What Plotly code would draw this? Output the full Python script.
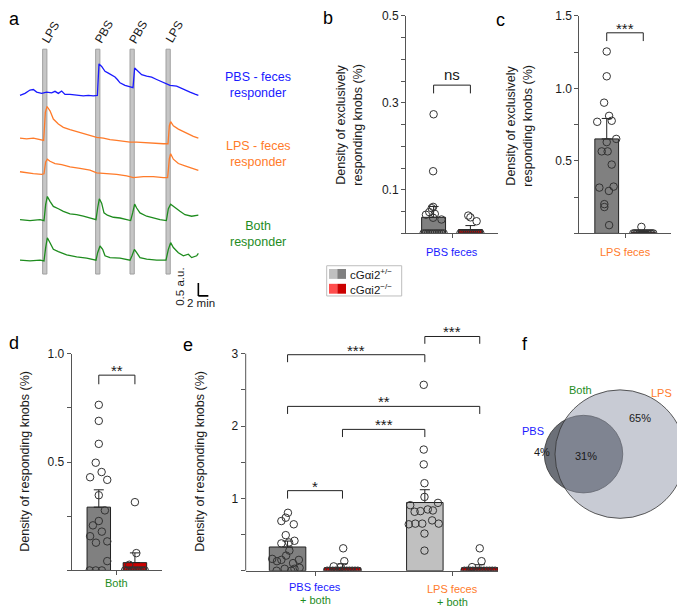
import math
import plotly.graph_objects as go

# page is offset by the default 8px body margin
OFF = 8
W, H = 685 - OFF, 607 - OFF
FONT = "Liberation Sans, Arial, Helvetica, sans-serif"
BLUE = "#1a1aff"
ORANGE = "#ff7b2a"
GREEN = "#1e8c1e"
AXC = "#555555"
TXT = "#1a1a1a"
DARKGRAY = "#808080"
LIGHTGRAY = "#c0c0c0"
RED = "#cc0000"
LIGHTRED = "#ff4d4d"


def PX(p):
    return (p - OFF) / W


def PY(p):
    return 1 - (p - OFF) / H


# ---------------- panel a : example traces ----------------
stim_labels = ["LPS", "PBS", "PBS", "LPS"]
stim_onsets = [4.53, 15.13, 22.0, 29.2]          # min
stim_duration = 0.85                              # min
trace_colors = [BLUE, ORANGE, ORANGE, GREEN, GREEN]
trace_offsets = [8.14, 6.41, 5.09, 3.27, 1.69]   # a.u.

blue_t = [0, 1.0, 2.0, 2.67, 3.33, 4.33, 5.33, 6.33, 7.0, 7.67, 8.33, 9.0, 10.0, 11.33,
          12.67, 13.67, 14.67, 15.47, 15.8, 16.33, 17.0, 17.67, 18.33, 19.0, 19.47, 20.0,
          21.0, 22.0, 22.6, 22.93, 23.47, 24.33, 25.33, 26.33, 27.33, 28.67, 30.0, 31.33,
          32.67, 34.0, 35.0, 35.67]
blue_v = [-0.04, 0.04, 0.17, 0.19, 0.09, 0.04, 0.09, 0.06, 0.12, 0.04, 0.13, 0.0, 0.0, -0.04,
          -0.06, -0.04, -0.06, -0.04, 1.19, 1.09, 0.90, 0.83, 0.77, 0.68, 0.58, 0.45,
          0.35, 0.29, 0.26, 1.03, 0.94, 0.77, 0.71, 0.67, 0.58, 0.45, 0.35, 0.32,
          0.22, 0.09, 0.01, -0.04]

orange1_t = [0, 1.33, 2.67, 4.0, 4.73, 5.07, 5.4, 6.0, 6.67, 7.67, 8.67, 10.0, 11.33, 12.67,
             14.0, 15.33, 16.67, 18.0, 19.33, 20.67, 22.0, 23.33, 24.67, 26.0, 27.33, 28.67,
             29.6, 29.87, 30.13, 30.67, 31.67, 32.67, 33.67, 34.67, 35.67]
orange1_v = [0.03, 0, 0.03, -0.03, -0.06, 1.03, 1.26, 1.09, 0.77, 0.58, 0.45, 0.36, 0.28, 0.22,
             0.15, 0.06, 0.03, -0.03, -0.06, -0.10, -0.13, -0.13, -0.15, -0.17, -0.18, -0.19,
             -0.19, 0.51, 0.67, 0.51, 0.38, 0.28, 0.19, 0.10, 0.03]

orange2_t = [0, 1.33, 2.67, 4.33, 4.8, 5.13, 5.47, 6.0, 7.0, 8.33, 10.0, 12.0, 14.0, 15.33,
             17.33, 19.33, 21.33, 22.67, 24.67, 26.67, 28.67, 29.53, 29.87, 30.13, 30.67,
             31.67, 33.0, 34.33, 35.67]
orange2_v = [0.04, 0, -0.03, -0.06, -0.04, 0.42, 0.53, 0.45, 0.36, 0.32, 0.23, 0.17, 0.10, 0,
             -0.03, -0.06, -0.12, -0.19, -0.15, -0.15, -0.19, -0.19, 0.55, 0.74, 0.53,
             0.36, 0.27, 0.17, 0.09]

green1_t = [0, 2.0, 4.0, 4.8, 5.13, 5.47, 6.0, 6.67, 7.67, 8.67, 10.0, 11.33, 12.67, 14.0,
            15.2, 15.53, 15.87, 16.33, 16.8, 17.47, 18.67, 20.0, 21.33, 22.13, 22.53, 22.93,
            23.33, 24.0, 25.33, 26.67, 28.0, 29.27, 29.67, 30.13, 30.67, 31.33, 32.0, 33.0,
            34.33, 35.67]
green1_v = [0, -0.04, 0, -0.04, 0.58, 0.90, 0.71, 0.51, 0.42, 0.32, 0.22, 0.19, 0.13, 0.06,
            0, 0.45, 0.81, 0.64, 0.26, 0.17, 0.09, 0.06, 0, -0.04, 0.26, 0.60,
            0.45, 0.26, 0.13, 0.06, 0, -0.04, 0.42, 0.60, 0.51, 0.42, 0.32, 0.19,
            0.13, 0.17]

green2_t = [0, 2.0, 4.0, 4.8, 5.13, 5.47, 6.0, 6.67, 7.67, 9.33, 11.33, 13.33, 15.2, 15.53,
            16.0, 16.53, 17.0, 18.0, 20.0, 22.0, 22.4, 22.87, 23.33, 24.0, 25.33, 27.33,
            29.2, 29.67, 30.13, 30.67, 31.67, 32.67, 33.67, 34.33, 35.33, 35.67]
green2_v = [0, -0.03, 0, -0.03, 0.49, 0.87, 0.68, 0.42, 0.33, 0.21, 0.13, 0.08, 0, 0.29,
            0.55, 0.42, 0.17, 0.10, 0.08, 0, 0.17, 0.42, 0.29, 0.10, 0.04, 0,
            0, 0.42, 0.68, 0.49, 0.29, 0.17, 0.23, 0.10, 0.17, 0.26]

trace_t = [blue_t, orange1_t, orange2_t, green1_t, green2_t]
trace_v = [blue_v, orange1_v, orange2_v, green1_v, green2_v]
trace_texts = ["PBS - feces<br>responder", "LPS - feces<br>responder", "Both<br>responder"]
scale_min = 2.0
scale_au = 0.5

# ---------------- bar panels ----------------
b_means = [0.037, 0.009]
b_sems = [0.025, 0.009]
b_het = [0.274, 0.143, 0.061, 0.058, 0.049, 0.045, 0.043, 0.036, 0.032,
         0, 0, 0, 0, 0, 0, 0, 0, 0, 0]
b_ko = [0.041, 0.037, 0.028, 0, 0, 0, 0, 0, 0, 0, 0, 0, 0, 0]

c_means = [0.652, 0.008]
c_sems = [0.141, 0.004]
c_het = [1.255, 1.084, 0.902, 0.811, 0.770, 0.777, 0.652, 0.630, 0.566, 0.566, 0.475,
         0.316, 0.323, 0.293, 0.202, 0.182, 0.057]
c_ko = [0.045, 0, 0, 0, 0, 0, 0, 0, 0, 0, 0, 0, 0, 0, 0]

d_means = [0.292, 0.036]
d_sems = [0.080, 0.045]
d_het = [0.764, 0.690, 0.584, 0.497, 0.454, 0.430, 0.418, 0.347, 0.277, 0.228, 0.208,
         0.179, 0.158, 0.134, 0.128, 0.043, 0, 0, 0]
d_ko = [0.315, 0.080, 0.026, 0, 0, 0, 0, 0, 0, 0, 0, 0]

e_means = [0.328, 0.040, 0.943, 0.040]
e_sems = [0.082, 0.056, 0.177, 0.043]
e_pbs_het = [0.801, 0.733, 0.687, 0.642, 0.492, 0.414, 0.391, 0.378, 0.278, 0.209, 0.164,
             0.150, 0.150, 0.132, 0.105, 0.041, 0.027, 0.027, 0, 0]
e_pbs_ko = [0.31, 0.132, 0.06, 0.05, 0, 0, 0, 0, 0, 0, 0, 0, 0, 0, 0, 0]
e_lps_het = [2.57, 1.675, 1.47, 1.21, 1.02, 0.938, 0.906, 0.847, 0.833, 0.824, 0.815,
             0.696, 0.651, 0.651, 0.651, 0.642, 0.514, 0.278]
e_lps_ko = [0.31, 0.132, 0.05, 0, 0, 0, 0, 0, 0, 0, 0, 0, 0, 0, 0]

b_ticks = [0, 0.05, 0.1, 0.15, 0.2, 0.25, 0.3, 0.35, 0.4, 0.45, 0.5]
b_ticklabels = ["", "", "0.1", "", "", "", "0.3", "", "", "", "0.5"]
c_ticks = [0, 0.25, 0.5, 0.75, 1.0, 1.25, 1.5]
c_ticklabels = ["", "", "0.5", "", "1.0", "", "1.5"]
d_ticks = [0, 0.25, 0.5, 0.75, 1.0]
d_ticklabels = ["", "", "0.5", "", "1.0"]
e_ticks = [0, 0.5, 1, 1.5, 2, 2.5, 3]
e_ticklabels = ["", "", "1", "", "2", "", "3"]

b_sig = [(0, 1, "ns")]
c_sig = [(0, 1, "***")]
d_sig = [(0, 1, "**")]
e_sig = [(0, 2, "***"), (2, 3, "***"), (0, 3, "**"), (1, 2, "***"), (0, 1, "*")]

venn_labels = ["PBS", "Both", "LPS"]
venn_pcts = [4, 31, 65]


def spread(n):
    if n <= 0:
        return []
    if n == 1:
        return [0.0]
    return [-0.42 + 0.84 * i / (n - 1) for i in range(n)]


def jit(listed, vals):
    return listed + spread(len(vals) - len(listed))


b_het_j = jit([0.0, -0.02, -0.02, -0.08, -0.18, 0.05, -0.32, -0.02, 0.33], b_het)
b_ko_j = jit([-0.09, 0.0, 0.26], b_ko)
c_het_j = jit([0, 0, -0.11, 0.10, -0.40, 0.21, 0.40, 0, -0.21, 0.04, 0.21, -0.31, 0.29,
               0.09, -0.10, -0.10, 0.10], c_het)
c_ko_j = jit([-0.08], c_ko)
d_het_j = jit([0, 0, 0, -0.13, 0.12, -0.37, 0.36, 0, 0.26, 0, -0.25, 0.13, -0.37, 0.36,
               -0.12, 0.36, -0.39, -0.13, 0.13], d_het)
d_ko_j = jit([0, 0.06, -0.24], d_ko)
e_pbs_het_j = jit([0.01, -0.05, -0.17, 0.17, -0.05, 0.19, 0.04, -0.17, 0.05, -0.04, -0.42,
                   -0.17, 0.31, -0.29, 0.15, 0.33, -0.08, 0.19, -0.3, 0.1], e_pbs_het)
e_pbs_ko_j = jit([0.02, 0.05, -0.24, -0.05], e_pbs_ko)
e_lps_het_j = jit([-0.03, -0.03, -0.03, -0.01, -0.01, 0.36, -0.40, 0.08, 0.22, -0.12,
                   -0.28, 0.20, -0.26, -0.07, 0.38, -0.44, -0.01, -0.01], e_lps_het)
e_lps_ko_j = jit([0, 0.05, -0.21], e_lps_ko)

fig = go.Figure()
shapes = []
ann = []


def note(px, py, text, size, color=TXT, xanchor="center", yanchor="middle", **kw):
    d = dict(x=PX(px), y=PY(py), xref="paper", yref="paper", text=text, showarrow=False,
             xanchor=xanchor, yanchor=yanchor, font=dict(size=size, color=color))
    d.update(kw)
    ann.append(d)


# ---------------- draw panel a ----------------
for t, v, off, col in zip(trace_t, trace_v, trace_offsets, trace_colors):
    fig.add_trace(go.Scatter(x=t, y=[off + vv for vv in v], mode="lines",
                             line=dict(color=col, width=1.3), xaxis="x", yaxis="y",
                             hoverinfo="skip"))
for on, lab in zip(stim_onsets, stim_labels):
    shapes.append(dict(type="rect", xref="x", yref="y", x0=on, x1=on + stim_duration,
                       y0=1.15, y1=9.9, fillcolor="#c6c6c6",
                       line=dict(color="#a0a0a0", width=1), layer="below"))
    ann.append(dict(x=on + stim_duration / 2, y=PY(25), xref="x", yref="paper", text=lab,
                    textangle=-60, showarrow=False, xshift=6, xanchor="center",
                    yanchor="middle", font=dict(size=12, color=TXT)))
sx0 = 35.67
sy0 = 0.30
shapes.append(dict(type="line", xref="x", yref="y", x0=sx0, x1=sx0, y0=sy0, y1=sy0 + scale_au,
                   line=dict(color="black", width=1.6)))
shapes.append(dict(type="line", xref="x", yref="y", x0=sx0, x1=sx0 + scale_min, y0=sy0, y1=sy0,
                   line=dict(color="black", width=1.6)))
note(180, 283, "0.5 a.u.", 11.5, textangle=-90)
note(201, 299, "2 min", 11.5)
for txt, col, py in zip(trace_texts, [BLUE, ORANGE, GREEN], [79, 149, 230]):
    note(258, py, txt, 12.5, col)


# ---------------- bar panel helper ----------------
def bar_panel(n, centers, width, means, sems, colors, pts, jits, sig, ylev):
    xa = "x%d" % n
    ya = "y%d" % n
    for c, m, s, col in zip(centers, means, sems, colors):
        fig.add_trace(go.Bar(x=[c], y=[m], width=[width],
                             marker=dict(color=col, line=dict(color="#222", width=1)),
                             error_y=dict(type="data", symmetric=False, array=[s],
                                          arrayminus=[0], color="#222", thickness=1,
                                          width=5),
                             xaxis=xa, yaxis=ya, hoverinfo="skip"))
    for c, p, j in zip(centers, pts, jits):
        fig.add_trace(go.Scatter(x=[c + jj * width for jj in j], y=p, mode="markers",
                                 marker=dict(symbol="circle-open", size=7.5, color="#333",
                                             line=dict(width=1)),
                                 xaxis=xa, yaxis=ya, hoverinfo="skip"))
    for (i0, i1, txt), (ytop, ybot) in zip(sig, ylev):
        x0, x1 = centers[i0], centers[i1]
        shapes.append(dict(type="path", xref=xa, yref=ya,
                           path="M %f,%f L %f,%f L %f,%f L %f,%f" % (x0, ybot, x0, ytop, x1, ytop, x1, ybot),
                           line=dict(color="#222", width=1)))
        ann.append(dict(x=(x0 + x1) / 2, y=ytop, xref=xa, yref=ya, text=txt,
                        showarrow=False, xanchor="center", yanchor="bottom",
                        yshift=-6 if "*" in txt else 0,
                        font=dict(size=15, color=TXT)))


bar_panel(2, [-0.4, 0.4], 0.52, b_means, b_sems, [DARKGRAY, RED], [b_het, b_ko],
          [b_het_j, b_ko_j], b_sig, [(0.341, 0.322)])
bar_panel(3, [-0.4, 0.4], 0.52, c_means, c_sems, [DARKGRAY, RED], [c_het, c_ko],
          [c_het_j, c_ko_j], c_sig, [(1.384, 1.327)])
bar_panel(4, [-0.4, 0.4], 0.52, d_means, d_sems, [DARKGRAY, RED], [d_het, d_ko],
          [d_het_j, d_ko_j], d_sig, [(0.901, 0.859)])
bar_panel(5, [-0.2, 0.2, 0.8, 1.2], 0.266, e_means, e_sems, [DARKGRAY, RED, LIGHTGRAY, RED],
          [e_pbs_het, e_pbs_ko, e_lps_het, e_lps_ko],
          [e_pbs_het_j, e_pbs_ko_j, e_lps_het_j, e_lps_ko_j], e_sig,
          [(2.986, 2.883), (3.238, 3.137), (2.272, 2.167), (1.954, 1.848), (1.107, 0.997)])

shapes.append(dict(type="line", xref="x5 domain", yref="y5", x0=0, x1=0, y0=0, y1=3,
                   line=dict(color=AXC, width=1)))


def xlabel(axis, xv, py, text, color):
    ann.append(dict(x=xv, y=PY(py), xref=axis, yref="paper", text=text, showarrow=False,
                    xanchor="center", yanchor="middle", font=dict(size=11, color=color)))


xlabel("x2", 0, 248, "PBS feces", BLUE)
xlabel("x3", 0, 248, "LPS feces", ORANGE)
xlabel("x4", 0, 583, "Both", GREEN)
xlabel("x5", 0, 587, "PBS feces", BLUE)
xlabel("x5", 0, 599.5, "+ both", GREEN)
xlabel("x5", 1, 588.5, "LPS feces", ORANGE)
xlabel("x5", 1, 601.5, "+ both", GREEN)

note(349, 119, "Density of exclusively<br>responding knobs (%)", 12.5, textangle=-90)
note(519, 120, "Density of exclusively<br>responding knobs (%)", 12.5, textangle=-90)
note(25, 460, "Density of responding knobs (%)", 12.5, textangle=-90)
note(200, 460, "Density of responding knobs (%)", 12.5, textangle=-90)

for letter, px, py in [("a", 14, 12), ("b", 328, 11), ("c", 500, 13), ("d", 14, 340),
                       ("e", 188, 342), ("f", 525, 341)]:
    note(px, py, letter, 18, "black")

# legend
shapes.append(dict(type="rect", xref="paper", yref="paper", x0=PX(326.7), x1=PX(401.7),
                   y0=PY(292.3), y1=PY(261.7), line=dict(color="#bdbdbd", width=1),
                   fillcolor="white"))
for (c1, c2), py0, py1 in [((LIGHTGRAY, DARKGRAY), 265, 275), ((LIGHTRED, RED), 280, 290)]:
    shapes.append(dict(type="rect", xref="paper", yref="paper", x0=PX(329), x1=PX(337.3),
                       y0=PY(py1), y1=PY(py0), fillcolor=c1, line=dict(width=0)))
    shapes.append(dict(type="rect", xref="paper", yref="paper", x0=PX(337.3), x1=PX(346),
                       y0=PY(py1), y1=PY(py0), fillcolor=c2, line=dict(width=0)))
note(348, 270.5, "cGαi2<sup>+/−</sup>", 11.5, xanchor="left")
note(348, 285.5, "cGαi2<sup>−/−</sup>", 11.5, xanchor="left")

# ---------------- panel f : Venn ----------------
pbs_total = venn_pcts[0] + venn_pcts[1]
lps_total = venn_pcts[1] + venn_pcts[2]
r_lps = 65.0
k = r_lps / math.sqrt(lps_total)
r_pbs = k * math.sqrt(pbs_total)
target = math.pi * k * k * venn_pcts[1]


def overlap(r1, r2, d):
    if d >= r1 + r2:
        return 0.0
    if d <= abs(r1 - r2):
        return math.pi * min(r1, r2) ** 2
    a1 = r1 * r1 * math.acos((d * d + r1 * r1 - r2 * r2) / (2 * d * r1))
    a2 = r2 * r2 * math.acos((d * d + r2 * r2 - r1 * r1) / (2 * d * r2))
    a3 = 0.5 * math.sqrt((-d + r1 + r2) * (d + r1 - r2) * (d - r1 + r2) * (d + r1 + r2))
    return a1 + a2 - a3


lo, hi = abs(r_lps - r_pbs) + 1e-6, r_lps + r_pbs
for _ in range(80):
    mid = (lo + hi) / 2
    if overlap(r_pbs, r_lps, mid) > target:
        lo = mid
    else:
        hi = mid
dist = (lo + hi) / 2
lcx, lcy = 620.0, 77.7
pcx, pcy = lcx - dist, lcy
shapes.append(dict(type="circle", xref="x6", yref="y6", x0=pcx - r_pbs, x1=pcx + r_pbs,
                   y0=pcy - r_pbs, y1=pcy + r_pbs, fillcolor="rgb(108,112,120)",
                   line=dict(color="#333", width=0.8)))
shapes.append(dict(type="circle", xref="x6", yref="y6", x0=lcx - r_lps, x1=lcx + r_lps,
                   y0=lcy - r_lps, y1=lcy + r_lps, fillcolor="rgba(146,152,170,0.5)",
                   line=dict(color="#333", width=0.8)))
venn_label_pos = [(533.3, 429, BLUE), (580.7, 387.7, GREEN), (661, 390, ORANGE)]
venn_pct_pos = [(542.3, 450), (586, 454), (640, 415.7)]
for lab, (px, py, col) in zip(venn_labels, venn_label_pos):
    note(px, py, lab, 11, col)
for pct, (px, py) in zip(venn_pcts, venn_pct_pos):
    note(px, py, "%d%%" % pct, 11)


# ---------------- axes ----------------
def yax(dom, rng, tv, tt, anchor, showline=True):
    return dict(domain=dom, range=rng, anchor=anchor, showline=showline, linecolor=AXC,
                linewidth=1, ticks="outside", ticklen=4, tickwidth=1, tickcolor=AXC,
                tickvals=tv, ticktext=tt, showgrid=False, zeroline=False,
                tickfont=dict(size=12, color=TXT), fixedrange=True)


def xax(dom, rng, tv, anchor):
    return dict(domain=dom, range=rng, anchor=anchor, showline=True, linecolor=AXC,
                linewidth=1, ticks="outside", ticklen=4, tickwidth=1, tickcolor=AXC,
                tickvals=tv, ticktext=[""] * len(tv), showgrid=False, zeroline=False,
                fixedrange=True)


hidden = dict(visible=False, showgrid=False, zeroline=False, fixedrange=True)

fig.update_layout(
    width=W, height=H, margin=dict(l=0, r=0, t=0, b=0),
    paper_bgcolor="white", plot_bgcolor="white", showlegend=False,
    barmode="overlay", font=dict(family=FONT, color=TXT),
    xaxis=dict(hidden, domain=[PX(10), PX(215)], range=[-2, 39], anchor="y"),
    yaxis=dict(hidden, domain=[PY(300), PY(40)], range=[0, 10], anchor="x"),
    xaxis2=xax([PX(406), PX(498)], [-1, 1], [0], "y2"),
    yaxis2=yax([PY(229), PY(9)], [0, 0.5], b_ticks, b_ticklabels, "x2"),
    xaxis3=xax([PX(579.3), PX(670.7)], [-1, 1], [0], "y3"),
    yaxis3=yax([PY(229), PY(9)], [0, 1.5], c_ticks, c_ticklabels, "x3"),
    xaxis4=xax([PX(71.7), PX(162)], [-1, 1], [0], "y4"),
    yaxis4=yax([PY(570), PY(350.7)], [0, 1.0], d_ticks, d_ticklabels, "x4"),
    xaxis5=xax([PX(245.7), PX(498)], [-0.505, 1.333], [0, 1], "y5"),
    yaxis5=yax([PY(570.3), PY(330)], [0, 3.283], e_ticks, e_ticklabels, "x5", showline=False),
    xaxis6=dict(hidden, domain=[PX(500), PX(685)], range=[500, 685], anchor="y6"),
    yaxis6=dict(hidden, domain=[PY(530), PY(370)], range=[0, 160], anchor="x6"),
    shapes=shapes,
    annotations=ann,
)

fig.write_html("out.html")
